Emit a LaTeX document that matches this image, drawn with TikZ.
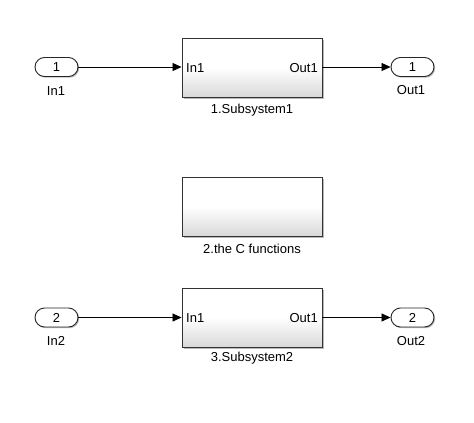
\documentclass[tikz,border=0pt]{standalone}
\usepackage{fontspec}
\setmainfont{Liberation Sans}
\usetikzlibrary{arrows.meta,shadows}
\begin{document}
\begin{tikzpicture}[x=1pt,y=-1pt,
  blk/.style={draw=black!80,line width=0.9pt,minimum width=140pt,minimum height=59pt,
    top color=white,bottom color=black!15,middle color=white,
    drop shadow={shadow xshift=1.5pt,shadow yshift=-1.5pt,fill=black!45,opacity=0.6}},
  port/.style={draw=black!85,line width=0.9pt,minimum width=43pt,minimum height=19pt,
    rounded corners=9.5pt,fill=white,font=\fontsize{13}{15}\selectfont,inner sep=0pt,
    drop shadow={shadow xshift=1.2pt,shadow yshift=-1.2pt,fill=black!45,opacity=0.6}},
  lbl/.style={font=\fontsize{13}{15}\selectfont,inner sep=0pt},
  wire/.style={line width=0.8pt,-{Triangle[length=9pt,width=8pt]}}]
\useasboundingbox (0,0) rectangle (474,423);
% row 1
\node[port] (in1) at (56.5,67) {1};
\node[lbl] (in1l) at (56,91) {In1};
\node[blk] (sub1) at (252,67.5) {};
\node[lbl,anchor=west] (sub1in) at (186,68) {In1};
\node[lbl,anchor=east] (sub1out) at (318,68) {Out1};
\node[lbl] (sub1l) at (252,110) {1.Subsystem1};
\node[port] (out1) at (412.5,67) {1};
\node[lbl] (out1l) at (411,90) {Out1};
\draw[wire] (in1.east) -- (sub1.west|-in1.east);
\draw[wire] (sub1.east|-out1.west) -- (out1.west);
% row 2
\node[blk] (cfun) at (252,206.5) {};
\node[lbl] (cfunl) at (252,249) {2.the C functions};
% row 3
\node[port] (in2) at (56.5,317.5) {2};
\node[lbl] (in2l) at (56,341) {In2};
\node[blk] (sub2) at (252,317.5) {};
\node[lbl,anchor=west] (sub2in) at (186,318) {In1};
\node[lbl,anchor=east] (sub2out) at (318,318) {Out1};
\node[lbl] (sub2l) at (252,358) {3.Subsystem2};
\node[port] (out2) at (412.5,317.5) {2};
\node[lbl] (out2l) at (411,341) {Out2};
\draw[wire] (in2.east) -- (sub2.west|-in2.east);
\draw[wire] (sub2.east|-out2.west) -- (out2.west);
\end{tikzpicture}
\end{document}
